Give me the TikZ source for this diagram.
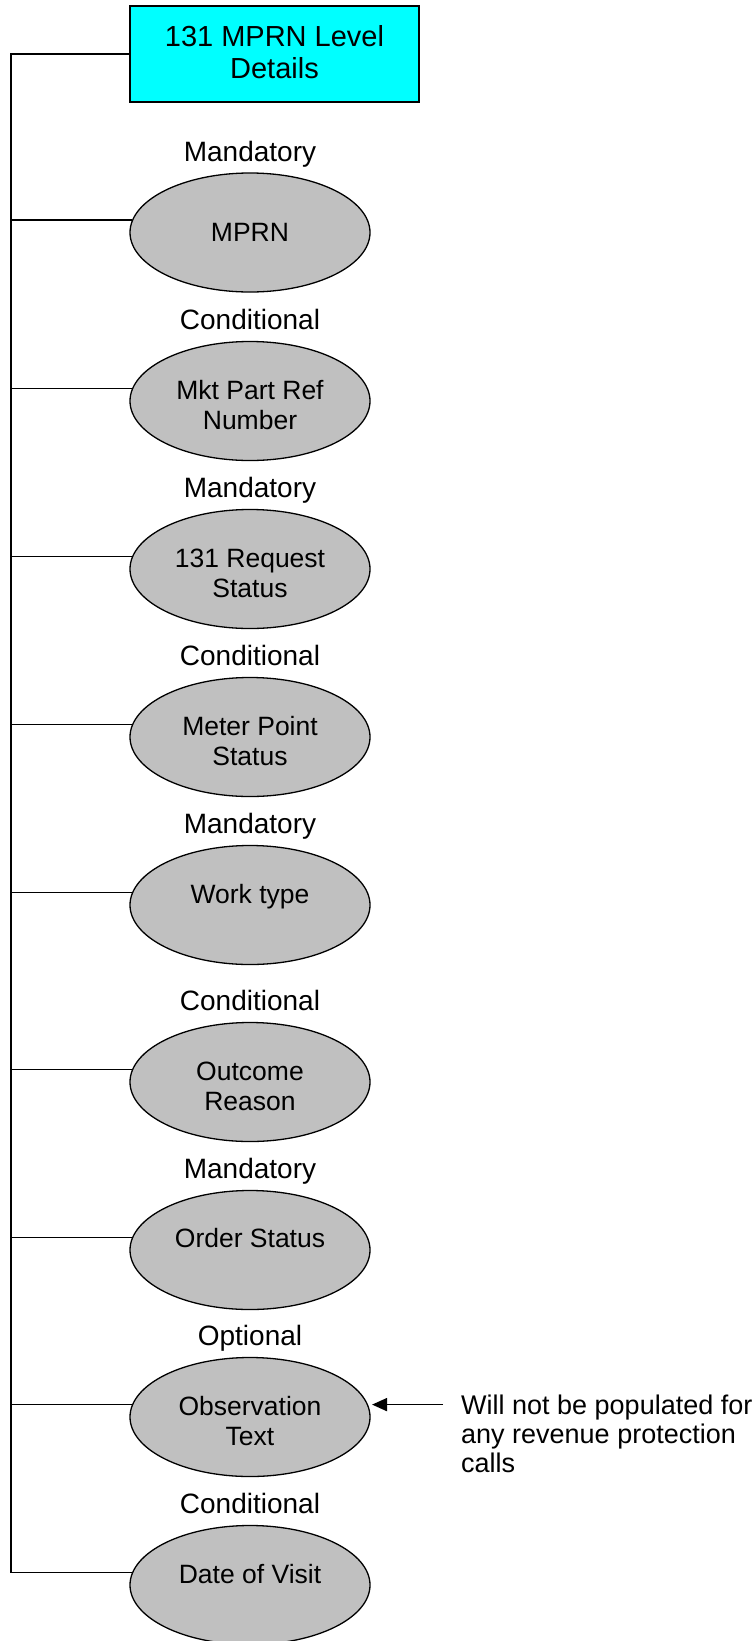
\documentclass[tikz,border=0pt]{standalone}
\usepackage{fontspec}
\setmainfont{Liberation Sans}
\usetikzlibrary{arrows.meta,shapes.geometric,calc}
\definecolor{ellgray}{RGB}{192,192,192}
\definecolor{boxcyan}{RGB}{0,255,255}
\newcommand{\mlines}[2][c]{\begin{tabular}[t]{@{}#1@{}}#2\end{tabular}}
\begin{document}
\begin{tikzpicture}[x=1pt,y=-1pt,
  elli/.style={ellipse, draw, line width=1.3pt, fill=ellgray, minimum width=240pt, minimum height=119pt, inner sep=0pt},
  intext/.style={anchor=base, inner sep=0pt, font=\fontsize{26.5}{30}\selectfont},
  lab/.style={anchor=base, inner sep=0pt, font=\fontsize{28}{32}\selectfont},
  topbox/.style={draw, line width=1.6pt, fill=boxcyan, minimum width=289pt, minimum height=96pt, inner sep=0pt},
  boxtext/.style={anchor=base, inner sep=0pt, font=\fontsize{29}{32}\selectfont},
  note/.style={anchor=base west, inner sep=0pt, font=\fontsize{27}{29}\selectfont},
  conn/.style={line width=1.7pt},
  arr/.style={line width=1.7pt, -{Triangle[length=15pt,width=13pt]}, shorten >=4pt}]
\useasboundingbox (0,0) rectangle (755,1641);

% top box
\node[topbox] (box) at (274.5,54) {};
\node[boxtext] (boxt) at (274.5,46) {\mlines{131 MPRN Level\\Details}};

% ellipses
\node[elli] (e1) at (250,232.5) {};
\node[elli] (e2) at (250,401) {};
\node[elli] (e3) at (250,569) {};
\node[elli] (e4) at (250,737) {};
\node[elli] (e5) at (250,905) {};
\node[elli] (e6) at (250,1082) {};
\node[elli] (e7) at (250,1250) {};
\node[elli] (e8) at (250,1417) {};
\node[elli] (e9) at (250,1585) {};

% texts inside
\node[intext] (t1) at (250,241) {MPRN};
\node[intext] (t2) at (250,399) {\mlines{Mkt Part Ref\\Number}};
\node[intext] (t3) at (250,567) {\mlines{131 Request\\Status}};
\node[intext] (t4) at (250,735) {\mlines{Meter Point\\Status}};
\node[intext] (t5) at (250,903) {Work type};
\node[intext] (t6) at (250,1080) {\mlines{Outcome\\Reason}};
\node[intext] (t7) at (250,1247) {Order Status};
\node[intext] (t8) at (250,1415) {\mlines{Observation\\Text}};
\node[intext] (t9) at (250,1583) {Date of Visit};

% labels
\node[lab] (l1) at (250,161) {Mandatory};
\node[lab] (l2) at (250,329.5) {Conditional};
\node[lab] (l3) at (250,497.5) {Mandatory};
\node[lab] (l4) at (250,665.5) {Conditional};
\node[lab] (l5) at (250,833.5) {Mandatory};
\node[lab] (l6) at (250,1010.5) {Conditional};
\node[lab] (l7) at (250,1178) {Mandatory};
\node[lab] (l8) at (250,1345.5) {Optional};
\node[lab] (l9) at (250,1513.5) {Conditional};

% spine and connectors
\coordinate (top) at (11,54);
\draw[conn] (box.west) -- (top) -- (top |- e9.174) -- (e9.174);
\foreach \e in {e1,e2,e3,e4,e5,e6,e7,e8}{
  \draw[conn] (top |- \e.174) -- (\e.174);
}

% annotation
\coordinate (arrs) at ($(e8.6)+(75,0)$);
\draw[arr] (arrs) -- (e8.6);
\node[note] (ann) at (461,1414) {\mlines[l]{Will not be populated for\\any revenue protection\\calls}};
\end{tikzpicture}
\end{document}
